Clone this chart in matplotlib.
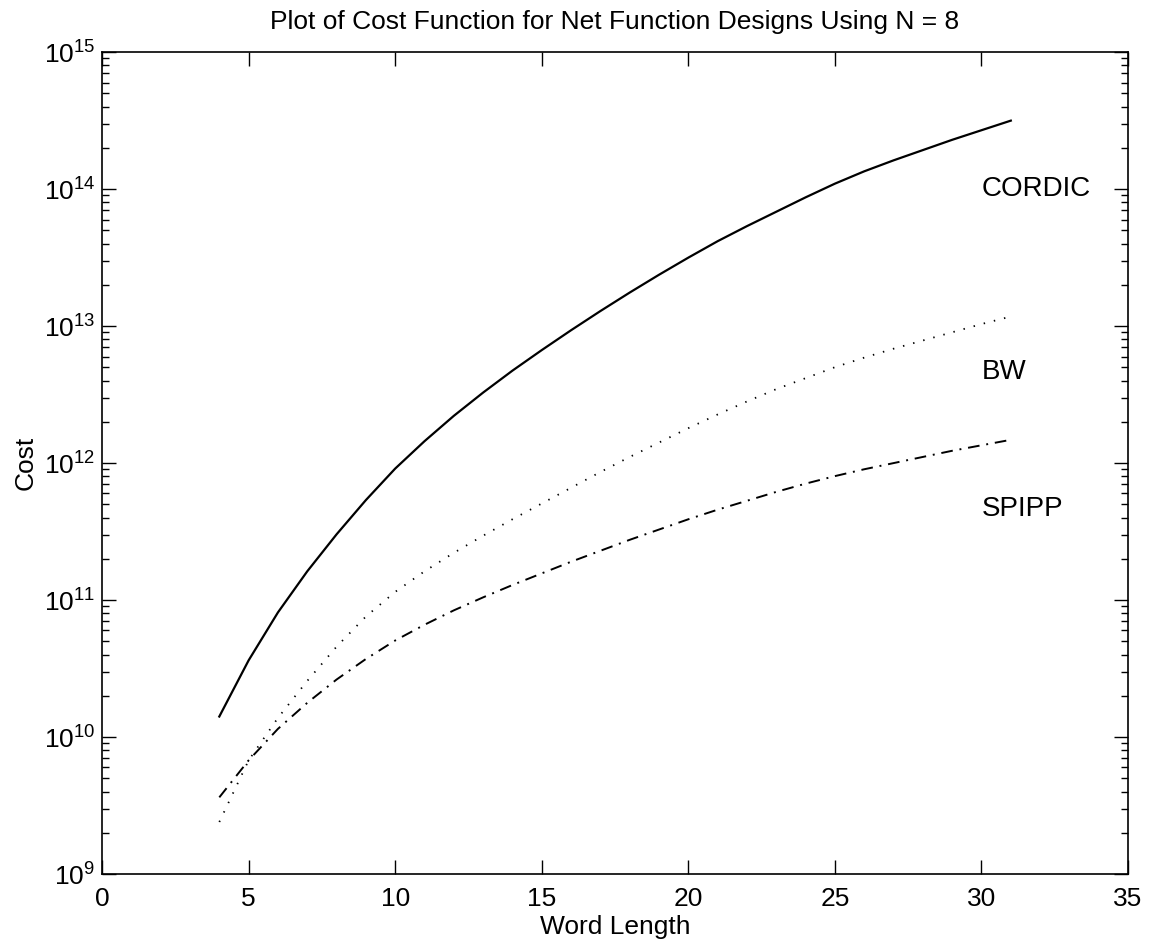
"""Cost function vs word length for net function designs (N = 8)."""

import matplotlib
matplotlib.use("Agg")
import matplotlib.pyplot as plt
import numpy as np
from matplotlib.ticker import LogLocator, FixedLocator

plt.rcParams["font.family"] = ["Liberation Sans", "DejaVu Sans"]
plt.rcParams["mathtext.fontset"] = "custom"
plt.rcParams["mathtext.rm"] = "Liberation Sans"
plt.rcParams["mathtext.it"] = "Liberation Sans"

# word lengths and log10(cost)
word_length = list(range(4, 32))
cordic_log = [10.15, 10.56, 10.91, 11.21, 11.48, 11.73, 11.96, 12.16, 12.345, 12.515,
              12.675, 12.825, 12.97, 13.11, 13.245, 13.375, 13.50, 13.62, 13.73, 13.835,
              13.94, 14.04, 14.13, 14.21, 14.285, 14.36, 14.43, 14.50]
bw_log = [9.38, 9.83, 10.14, 10.41, 10.66, 10.88, 11.06, 11.21, 11.345, 11.47,
          11.59, 11.705, 11.82, 11.935, 12.045, 12.15, 12.255, 12.355, 12.45, 12.54,
          12.62, 12.70, 12.77, 12.835, 12.895, 12.955, 13.015, 13.07]
spipp_log = [9.56, 9.83, 10.06, 10.25, 10.42, 10.57, 10.705, 10.82, 10.925, 11.02,
             11.11, 11.195, 11.28, 11.36, 11.44, 11.515, 11.59, 11.66, 11.725, 11.79,
             11.85, 11.905, 11.955, 12.0, 12.045, 12.09, 12.13, 12.17]

labels = ["CORDIC", "BW", "SPIPP"]
label_x = 30
label_y = [1e14, 4.6e12, 4.6e11]

x_ticks = [0, 5, 10, 15, 20, 25, 30, 35]
y_exps = [9, 10, 11, 12, 13, 14, 15]

fig = plt.figure(figsize=(11.57, 9.48), dpi=100)
ax = fig.add_axes([0.0882, 0.078, 0.8868, 0.867])

x = np.array(word_length)
ax.semilogy(x, 10 ** np.array(cordic_log), color="black", lw=1.6, ls="-")
ax.semilogy(x, 10 ** np.array(bw_log), color="black", lw=1.3, ls=(0, (0.8, 5.0)))
ax.semilogy(x, 10 ** np.array(spipp_log), color="black", lw=1.4, ls=(0, (6, 3.5, 1, 3.5)))

for lab, ly in zip(labels, label_y):
    ax.text(label_x, ly, lab, fontsize=20, ha="left", va="center")

ax.set_xlim(0, 35)
ax.set_ylim(1e9, 1e15)
ax.xaxis.set_major_locator(FixedLocator(x_ticks))
ax.set_xticklabels([str(t) for t in x_ticks])
ax.yaxis.set_major_locator(FixedLocator([10.0 ** e for e in y_exps]))
ax.set_yticklabels([f"$10^{{{e}}}$" for e in y_exps])
ax.yaxis.set_minor_locator(LogLocator(base=10, subs=np.arange(2, 10)))

ax.tick_params(which="both", direction="in", top=True, right=True, labelsize=19)
ax.tick_params(which="major", length=10, width=1.0)
ax.tick_params(which="minor", length=5, width=1.0)
ax.tick_params(axis="x", pad=9)
ax.tick_params(axis="y", pad=5)
for s in ax.spines.values():
    s.set_linewidth(1.2)

ax.set_xlabel("Word Length", fontsize=19, labelpad=3)
ax.set_ylabel("Cost", fontsize=19, labelpad=4)
ax.set_title("Plot of Cost Function for Net Function Designs Using N = 8", fontsize=19, pad=17)

fig.savefig("out.png", dpi=100)
